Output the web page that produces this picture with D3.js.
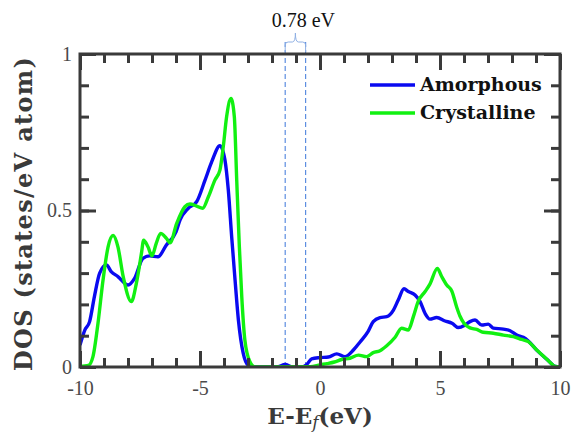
<!DOCTYPE html>
<html>
<head>
<meta charset="utf-8">
<script src="https://cdn.jsdelivr.net/npm/d3@7"></script>
<style>
  body { margin: 0; background: #fff; }
  svg { display: block; }
</style>
</head>
<body>
<svg width="573" height="436"></svg>
<script>
// energies (eV) and DOS
const energyAmorphous = [-10, -9.8, -9.6, -9.4, -9.18, -8.9, -8.7, -8.42, -8.0, -7.72, -7.38, -7.1, -6.75, -6.4, -6.0,
  -5.83, -5.49, -5.14, -4.79, -4.51, -4.17, -3.96, -3.82, -3.68, -3.54, -3.4, -3.2, -3.0, -2.8, -1.8, -1.45, -1.15,
  -0.75, -0.55, -0.35, 0, 0.35, 0.7, 1.04, 1.4, 1.67, 2.0, 2.22, 2.5, 2.78, 3.06, 3.26, 3.5, 3.68, 3.96, 4.17, 4.38,
  4.58, 4.86, 5.21, 5.5, 5.76, 6.04, 6.25, 6.46, 6.74, 7.01, 7.22, 7.64, 7.92, 8.2, 8.47, 8.68, 9.03, 9.45, 9.8, 10];
const dosAmorphous = [0.07, 0.118, 0.145, 0.225, 0.30, 0.326, 0.305, 0.289, 0.262, 0.284, 0.347, 0.355, 0.352, 0.39, 0.432,
  0.47, 0.507, 0.528, 0.597, 0.656, 0.707, 0.661, 0.565, 0.416, 0.278, 0.15, 0.044, 0.006, 0, 0, 0.008, 0,
  0, 0.008, 0.026, 0.03, 0.032, 0.042, 0.033, 0.055, 0.08, 0.113, 0.145, 0.158, 0.161, 0.182, 0.214, 0.25, 0.241, 0.23, 0.209, 0.171,
  0.153, 0.158, 0.147, 0.14, 0.126, 0.134, 0.145, 0.15, 0.134, 0.137, 0.124, 0.121, 0.116, 0.102, 0.095, 0.083, 0.054, 0.025, 0.002, 0];

const energyCrystalline = [-10, -9.65, -9.46, -9.25, -9.04, -8.83, -8.62, -8.42, -8.2, -7.86, -7.65, -7.44, -7.35, -7.17, -7.0,
  -6.82, -6.64, -6.4, -6.25, -5.97, -5.63, -5.42, -5.14, -4.89, -4.65, -4.38, -4.17, -4.03, -3.89, -3.71, -3.57, -3.47,
  -3.36, -3.26, -3.13, -2.92, -2.7, -0.4, 0, 0.3, 0.6, 0.9, 1.25, 1.6, 1.94, 2.22, 2.5, 2.78, 3.13, 3.4, 3.68, 3.89,
  4.1, 4.38, 4.58, 4.89, 5.07, 5.28, 5.49, 5.7, 5.83, 6.0, 6.25, 6.53, 6.8, 7.22, 7.64, 8.06, 8.4, 8.68, 9.03, 9.45, 9.8, 10];
const dosCrystalline = [0.002, 0.005, 0.033, 0.14, 0.278, 0.384, 0.42, 0.384, 0.289, 0.209, 0.268, 0.363, 0.405, 0.384, 0.355,
  0.396, 0.427, 0.411, 0.397, 0.459, 0.512, 0.521, 0.514, 0.507, 0.544, 0.597, 0.629, 0.704, 0.80, 0.858, 0.80, 0.597,
  0.384, 0.225, 0.086, 0.017, 0, 0.001, 0.007, 0.011, 0.016, 0.024, 0.028, 0.038, 0.033, 0.046, 0.052, 0.068, 0.095, 0.124, 0.118, 0.161,
  0.211, 0.241, 0.265, 0.315, 0.289, 0.262, 0.243, 0.19, 0.163, 0.14, 0.125, 0.12, 0.111, 0.108, 0.102, 0.097, 0.088, 0.081, 0.054, 0.025, 0.002, 0];

const seriesNames = ['Amorphous', 'Crystalline'];
const seriesColors = ['#0a0af0', '#11f011'];
const xMajorTicks = [-10, -5, 0, 5, 10];
const xMinorTicks = d3.range(-10, 10.01, 1);
const yMajorTicks = [0, 0.5, 1];
const yMinorTicks = d3.range(0, 1.001, 0.1);
const gapEdges = [-1.45, -0.6];
const gapLabel = '0.78 eV';

(function () {
const svg = d3.select('svg');
const left = 80, right = 560, top = 54, bottom = 367;
const x = d3.scaleLinear().domain([-10, 10]).range([left, right]);
const y = d3.scaleLinear().domain([0, 1]).range([bottom, top]);
const axisColor = '#3a3a3a';
const serif = '"Liberation Serif", "Times New Roman", serif';
const boldSerif = '"DejaVu Serif", serif';

svg.append('clipPath').attr('id', 'plot')
  .append('rect').attr('x', left).attr('y', top - 2).attr('width', right - left).attr('height', bottom - top + 2);

// gap markers
gapEdges.forEach(e => {
  svg.append('line')
    .attr('x1', x(e)).attr('x2', x(e))
    .attr('y1', 42).attr('y2', bottom)
    .attr('stroke', '#5d8ee0').attr('stroke-width', 1.2)
    .attr('stroke-dasharray', '5,3');
});
const bx0 = x(gapEdges[0]), bx1 = x(gapEdges[1]), bm = (bx0 + bx1) / 2;
svg.append('path')
  .attr('d', `M${bx0},52 L${bx0},45 Q${bx0},42 ${bx0 + 3},42 L${bm - 3},42 Q${bm},42 ${bm},33 Q${bm},42 ${bm + 3},42 L${bx1 - 3},42 Q${bx1},42 ${bx1},45 L${bx1},52`)
  .attr('fill', 'none').attr('stroke', '#8fb0e4').attr('stroke-width', 1);
svg.append('text')
  .attr('x', bm + 8).attr('y', 27)
  .attr('text-anchor', 'middle')
  .attr('font-family', serif).attr('font-size', 20).attr('fill', '#111')
  .text(gapLabel);

// curves
const line = d3.line().curve(d3.curveMonotoneX).x(d => x(d[0])).y(d => y(d[1]));
const seriesData = [
  d3.zip(energyAmorphous, dosAmorphous),
  d3.zip(energyCrystalline, dosCrystalline)
];
seriesData.forEach((pts, i) => {
  svg.append('path')
    .datum(pts)
    .attr('clip-path', 'url(#plot)')
    .attr('fill', 'none')
    .attr('stroke', seriesColors[i])
    .attr('stroke-width', 3.4)
    .attr('stroke-linejoin', 'round')
    .attr('d', line);
});

// axes: ticks point inward, on all four sides
function styleAxis(g) {
  g.select('.domain').remove();
  g.selectAll('.tick line').attr('stroke', axisColor).attr('stroke-width', 3);
  g.selectAll('.tick text').attr('font-family', serif).attr('font-size', 20).attr('fill', '#4a4a4a');
}
svg.append('g').attr('transform', `translate(0,${bottom})`)
  .call(d3.axisBottom(x).tickValues(xMinorTicks).tickSize(-9).tickFormat(''))
  .call(styleAxis);
svg.append('g').attr('transform', `translate(0,${bottom})`)
  .call(d3.axisBottom(x).tickValues(xMajorTicks).tickSize(-16).tickPadding(14).tickFormat(d => String(d)))
  .call(styleAxis);
svg.append('g').attr('transform', `translate(0,${top})`)
  .call(d3.axisTop(x).tickValues(xMinorTicks).tickSize(-9).tickFormat(''))
  .call(styleAxis);
svg.append('g').attr('transform', `translate(0,${top})`)
  .call(d3.axisTop(x).tickValues(xMajorTicks).tickSize(-16).tickFormat(''))
  .call(styleAxis);
svg.append('g').attr('transform', `translate(${left},0)`)
  .call(d3.axisLeft(y).tickValues(yMinorTicks).tickSize(-9).tickFormat(''))
  .call(styleAxis);
svg.append('g').attr('transform', `translate(${left},0)`)
  .call(d3.axisLeft(y).tickValues(yMajorTicks).tickSize(-16).tickPadding(8).tickFormat(d => String(d)))
  .call(styleAxis);
svg.append('g').attr('transform', `translate(${right},0)`)
  .call(d3.axisRight(y).tickValues(yMinorTicks).tickSize(-9).tickFormat(''))
  .call(styleAxis);
svg.append('g').attr('transform', `translate(${right},0)`)
  .call(d3.axisRight(y).tickValues(yMajorTicks).tickSize(-16).tickFormat(''))
  .call(styleAxis);

svg.append('rect')
  .attr('x', left).attr('y', top).attr('width', right - left).attr('height', bottom - top)
  .attr('fill', 'none').attr('stroke', axisColor).attr('stroke-width', 3);

// legend
seriesNames.forEach((name, i) => {
  const ly = 85 + i * 28;
  svg.append('line')
    .attr('x1', 370).attr('x2', 415).attr('y1', ly).attr('y2', ly)
    .attr('stroke', seriesColors[i]).attr('stroke-width', 3.4);
  svg.append('text')
    .attr('x', 420).attr('y', ly + 6)
    .attr('font-family', boldSerif).attr('font-weight', 'bold')
    .attr('font-size', 19).attr('fill', '#111')
    .text(name);
});

// axis titles
const xt = svg.append('text')
  .attr('x', x(0)).attr('y', 424)
  .attr('text-anchor', 'middle')
  .attr('font-family', boldSerif).attr('font-weight', 'bold')
  .attr('font-size', 23).attr('fill', '#3a3a3a');
xt.append('tspan').text('E-E');
xt.append('tspan').attr('font-style', 'italic').attr('font-weight', 'normal').attr('font-size', 17).attr('dy', 4).text('f');
xt.append('tspan').attr('dy', -4).text('(eV)');

svg.append('text')
  .attr('transform', `translate(32,${(top + bottom) / 2 + 3}) rotate(-90)`)
  .attr('text-anchor', 'middle')
  .attr('font-family', boldSerif).attr('font-weight', 'bold')
  .attr('font-size', 24).attr('letter-spacing', 1.3).attr('fill', '#3a3a3a')
  .text('DOS (states/eV atom)');
})();
</script>
</body>
</html>
